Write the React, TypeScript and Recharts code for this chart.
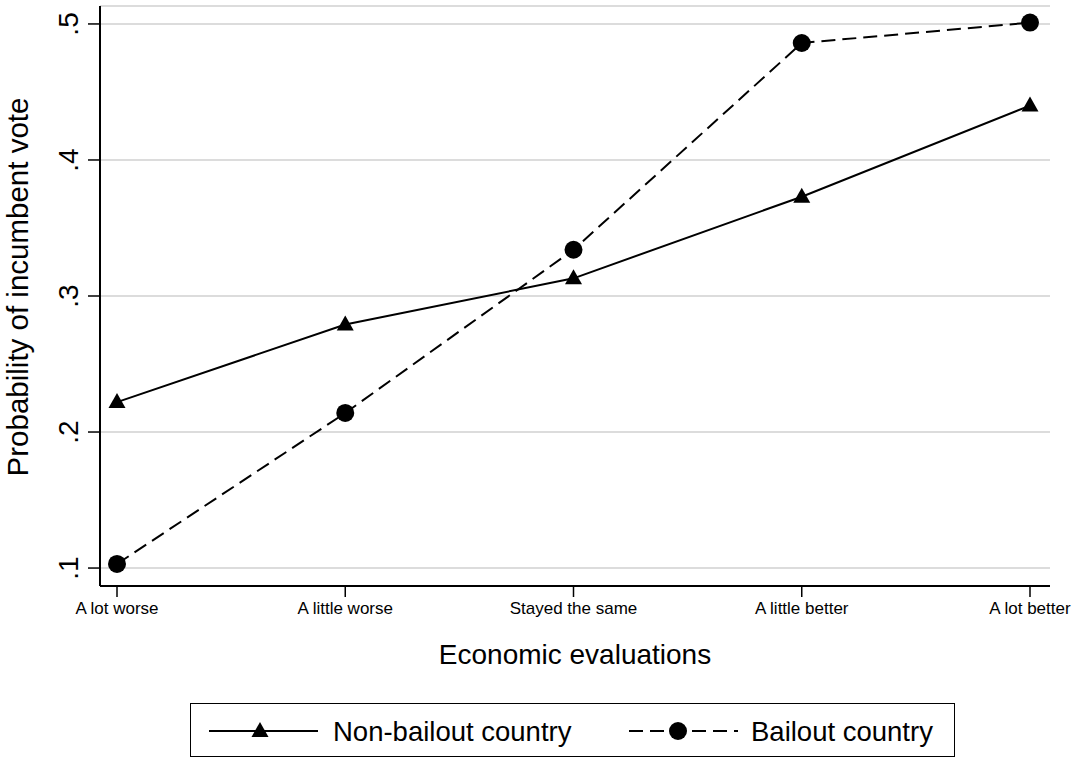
import { LineChart, Line, XAxis, YAxis, CartesianGrid, Label } from 'recharts'

const categories = ['A lot worse', 'A little worse', 'Stayed the same', 'A little better', 'A lot better']
const nonBailout = [0.222, 0.279, 0.313, 0.373, 0.44]
const bailout = [0.103, 0.214, 0.334, 0.486, 0.501]
const yTicks = [0.1, 0.2, 0.3, 0.4, 0.5]
const yTickLabels = ['.1', '.2', '.3', '.4', '.5']

const FONT = 'Arial, "Liberation Sans", Helvetica, sans-serif'
const DASH = '14 7'

const data = categories.map((category, i) => ({
    category,
    nonBailout: nonBailout[i],
    bailout: bailout[i],
}))

// Stata-style rotated y tick labels
function YTick(props: any) {
    const { x, y, payload } = props
    const idx = yTicks.indexOf(payload.value)
    const label = idx >= 0 ? yTickLabels[idx] : String(payload.value)
    return (
        <text
            x={x}
            y={y}
            transform={`rotate(-90, ${x}, ${y})`}
            textAnchor="middle"
            fontSize={28}
            fontFamily={FONT}
            fill="#000"
        >
            {label}
        </text>
    )
}

function TriangleDot(props: any) {
    const { cx, cy } = props
    if (cx == null || cy == null) return null
    return <path d={`M${cx},${cy - 9} L${cx - 8.5},${cy + 6} L${cx + 8.5},${cy + 6} Z`} fill="#000" />
}

function CircleDot(props: any) {
    const { cx, cy } = props
    if (cx == null || cy == null) return null
    return <circle cx={cx} cy={cy} r={9} fill="#000" />
}

function YTitle() {
    return (
        <text
            x={28}
            y={287}
            transform="rotate(-90, 28, 287)"
            textAnchor="middle"
            fontSize={29.5}
            fontFamily={FONT}
            fill="#000"
        >
            Probability of incumbent vote
        </text>
    )
}

function LegendBox() {
    return (
        <div
            style={{
                position: 'absolute',
                left: 190,
                top: 703,
                width: 763,
                height: 52,
                border: '1.5px solid #000',
            }}
        >
            <svg width={763} height={52} style={{ position: 'absolute', left: 0, top: 0 }}>
                <line x1={18} y1={27} x2={127} y2={27} stroke="#000" strokeWidth={2} />
                <path d="M69,18 L60.5,33 L77.5,33 Z" fill="#000" />
                <line x1={438} y1={27} x2={547} y2={27} stroke="#000" strokeWidth={2} strokeDasharray={DASH} />
                <circle cx={487} cy={27} r={9} fill="#000" />
                <text x={142} y={37} fontSize={27.5} fontFamily={FONT}>Non-bailout country</text>
                <text x={560} y={37} fontSize={27.5} fontFamily={FONT}>Bailout country</text>
            </svg>
        </div>
    )
}

export default function App() {
    return (
        <div style={{ position: 'absolute', left: 0, top: 0, width: 1074, height: 758, background: '#fff' }}>
            <LineChart
                width={1074}
                height={690}
                data={data}
                margin={{ top: 6, right: 24, left: 0, bottom: 0 }}
            >
                <CartesianGrid horizontal vertical={false} stroke="#dcdcdc" strokeWidth={2} />
                <XAxis
                    dataKey="category"
                    padding={{ left: 17, right: 20 }}
                    height={104}
                    tickSize={11}
                    tickMargin={5}
                    tick={{ fontSize: 17, fontFamily: FONT, fill: '#000' }}
                    tickLine={{ stroke: '#000', strokeWidth: 1.5 }}
                    axisLine={{ stroke: '#000', strokeWidth: 2 }}
                    interval={0}
                >
                    <Label
                        value="Economic evaluations"
                        position="insideBottom"
                        offset={26}
                        fontSize={28}
                        fontFamily={FONT}
                        fill="#000"
                    />
                </XAxis>
                <YAxis
                    type="number"
                    domain={[0.0868, 0.5132]}
                    ticks={yTicks}
                    width={100}
                    tickSize={12}
                    tickMargin={10}
                    tick={<YTick />}
                    tickLine={{ stroke: '#000', strokeWidth: 1.5 }}
                    axisLine={{ stroke: '#000', strokeWidth: 2 }}
                >
                    <Label content={<YTitle />} />
                </YAxis>
                <Line
                    type="linear"
                    dataKey="nonBailout"
                    stroke="#000"
                    strokeWidth={2}
                    dot={<TriangleDot />}
                    activeDot={false}
                    isAnimationActive={false}
                />
                <Line
                    type="linear"
                    dataKey="bailout"
                    stroke="#000"
                    strokeWidth={2}
                    strokeDasharray={DASH}
                    dot={<CircleDot />}
                    activeDot={false}
                    isAnimationActive={false}
                />
            </LineChart>
            <LegendBox />
        </div>
    )
}
